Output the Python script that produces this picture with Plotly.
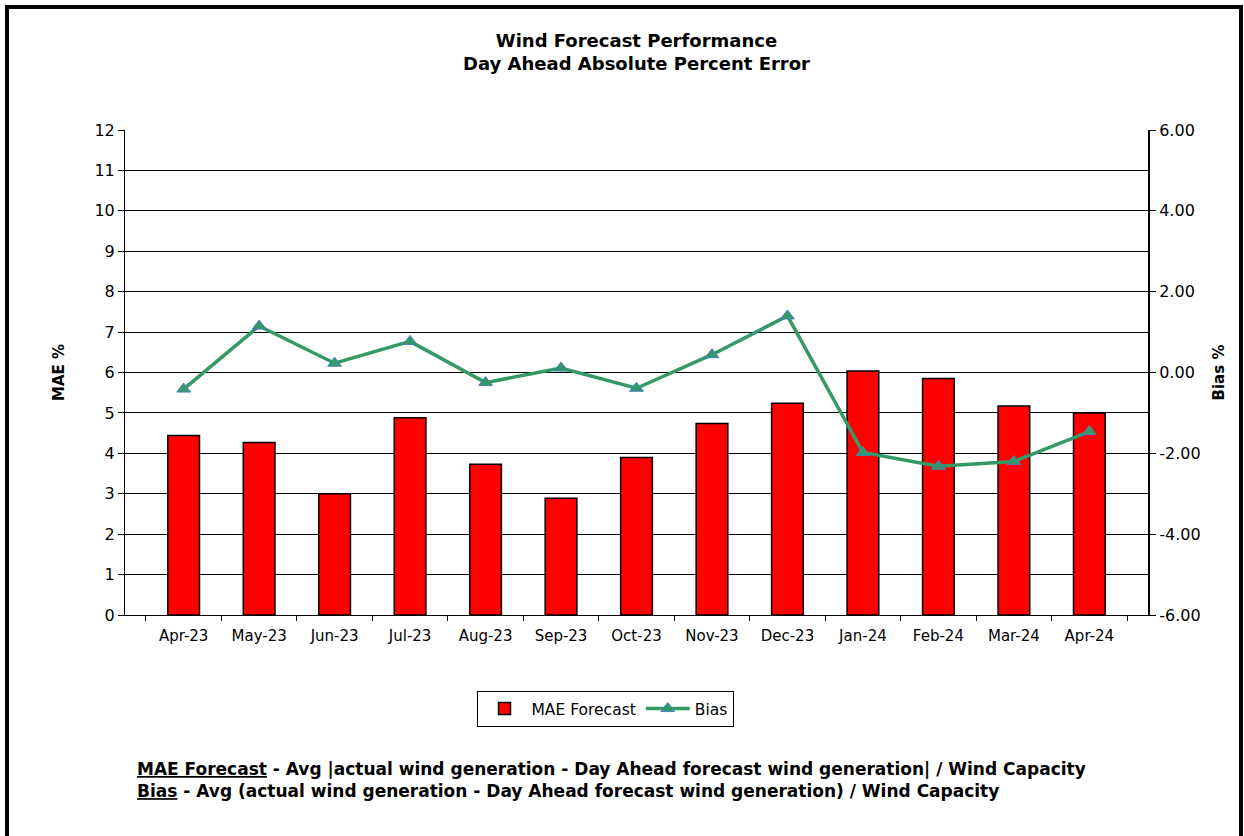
import plotly.graph_objects as go

# data
months = ["Apr-23", "May-23", "Jun-23", "Jul-23", "Aug-23", "Sep-23", "Oct-23",
          "Nov-23", "Dec-23", "Jan-24", "Feb-24", "Mar-24", "Apr-24"]
mae_forecast = [4.44, 4.27, 3.0, 4.88, 3.73, 2.89, 3.90, 4.74, 5.24, 6.04, 5.85, 5.17, 5.0]
bias = [-0.41, 1.15, 0.23, 0.77, -0.25, 0.11, -0.39, 0.44, 1.40, -1.98, -2.32, -2.20, -1.46]

left_ticks = list(range(0, 13))
right_ticks = [-6, -4, -2, 0, 2, 4, 6]
right_labels = ["%.2f" % v for v in right_ticks]

W, H = 1244, 836
L, R, T, B = 125, 96, 130, 221  # plot area margins in pixels
FONT = "DejaVu Sans"

fig = go.Figure()

fig.add_trace(go.Bar(
    x=months, y=mae_forecast, name="MAE Forecast",
    marker=dict(color="#ff0000", line=dict(color="black", width=1.5)),
    width=0.42,
))

fig.add_trace(go.Scatter(
    x=months, y=bias, name="Bias", yaxis="y2",
    mode="lines+markers",
    line=dict(color="#339966", width=3.5),
    marker=dict(symbol="triangle-up", size=12, color="#339966",
                line=dict(color="#4a7ebb", width=1)),
))


# pixel -> paper coordinates
def px_x(p):
    return (p - L) / (W - L - R)


def px_y(p):
    return (H - B - p) / (H - T - B)


# outer frame
fig.add_shape(type="rect", xref="paper", yref="paper",
              x0=px_x(7), x1=px_x(1241), y0=px_y(7), y1=px_y(845),
              line=dict(color="black", width=4), layer="below")

fig.update_layout(
    width=W, height=H,
    margin=dict(l=L, r=R, t=T, b=B),
    paper_bgcolor="white", plot_bgcolor="white",
    font=dict(family=FONT, size=15, color="black"),
    title=dict(text="<b>Wind Forecast Performance<br>Day Ahead Absolute Percent Error</b>",
               x=0.5, xref="paper", xanchor="center", y=1 - 47 / H, yanchor="top",
               font=dict(size=18)),
    showlegend=True,
    legend=dict(orientation="h", x=px_x(605), xanchor="center",
                y=px_y(691), yanchor="top",
                bordercolor="black", borderwidth=1,
                font=dict(size=15.5), itemwidth=44),
    xaxis=dict(type="category", tickson="boundaries", ticks="outside",
               ticklen=5, tickcolor="black", showline=True, linecolor="black",
               linewidth=1, showgrid=False, tickfont=dict(size=15),
               ticklabelstandoff=7),
    yaxis=dict(range=[0, 12], tickvals=left_ticks, ticks="outside", ticklen=6,
               tickcolor="black", showline=True, linecolor="black", linewidth=1,
               showgrid=True, gridcolor="black", gridwidth=1, zeroline=False,
               tickfont=dict(size=16),
               title=dict(text="<b>MAE %</b>", standoff=26, font=dict(size=15))),
    yaxis2=dict(range=[-6, 6], tickvals=right_ticks, ticktext=right_labels,
                overlaying="y", side="right", ticks="outside", ticklen=6,
                tickcolor="black", showline=True, linecolor="black", linewidth=2,
                showgrid=False, zeroline=False, tickfont=dict(size=16),
                title=dict(text="<b>Bias %</b>", standoff=14, font=dict(size=15))),
)

fig.add_annotation(
    xref="paper", yref="paper", x=px_x(135), y=px_y(757), xanchor="left", yanchor="top",
    align="left", showarrow=False,
    font=dict(size=17, family=FONT),
    text="<b><u>MAE Forecast</u> - Avg |actual wind generation - Day Ahead forecast wind generation| / Wind Capacity"
         "<br><u>Bias</u> - Avg (actual wind generation - Day Ahead forecast wind generation) / Wind Capacity</b>",
)

fig.write_html("out.html", config={"displayModeBar": False},
               post_script="document.body.style.margin='0';")
